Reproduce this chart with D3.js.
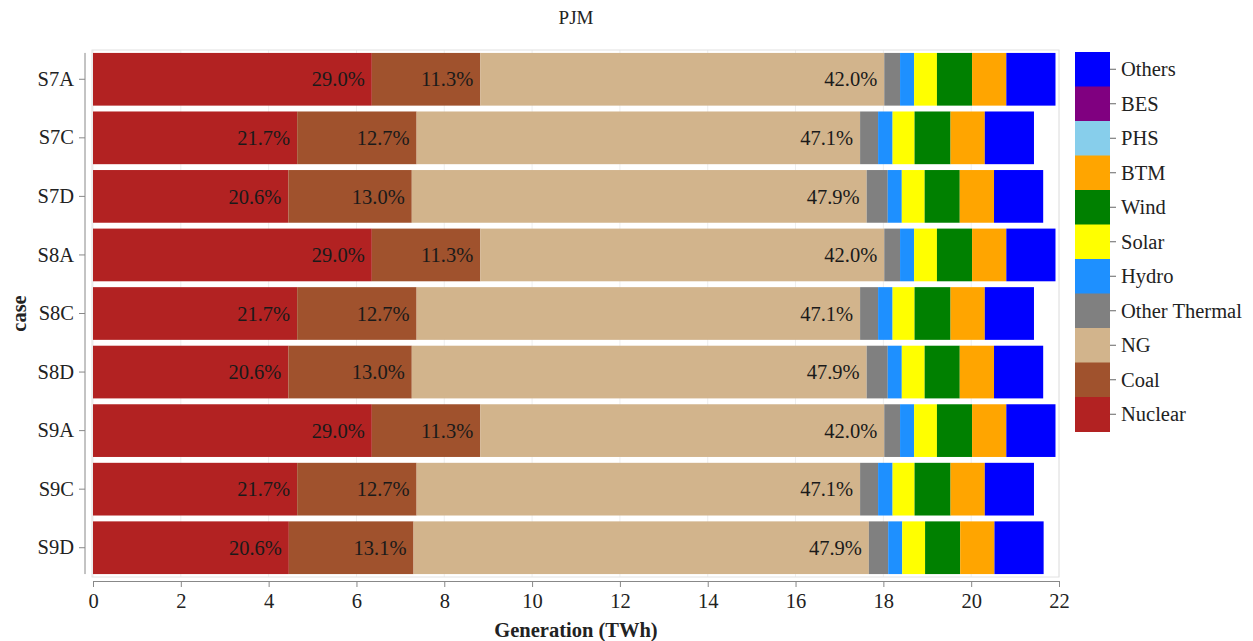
<!DOCTYPE html>
<html>
<head>
<meta charset="utf-8">
<script src="https://cdn.jsdelivr.net/npm/d3@7"></script>
<style>
  html, body { margin: 0; padding: 0; background: #fff; }
  svg text { font-family: "Liberation Serif", "Times New Roman", serif; fill: #222; }
</style>
</head>
<body>
<svg id="chart" width="1253" height="641"></svg>
<script>
// Cases (top to bottom) and generation technologies (stack order, left to right)
const cases = ["S7A", "S7C", "S7D", "S8A", "S8C", "S8D", "S9A", "S9C", "S9D"];
const techs = ["Nuclear", "Coal", "NG", "Other Thermal", "Hydro", "Solar", "Wind", "BTM", "PHS", "BES", "Others"];
const techColors = ["#b22222", "#a0522d", "#d2b48c", "#808080", "#1e90ff", "#ffff00", "#008000", "#ffa500", "#87ceeb", "#800080", "#0000ff"];

// Generation by technology, TWh (one value per case)
const nuclear      = [6.35, 4.65, 4.45, 6.35, 4.65, 4.45, 6.35, 4.65, 4.46];
const coal         = [2.47, 2.72, 2.81, 2.47, 2.72, 2.81, 2.47, 2.72, 2.84];
const ng           = [9.20, 10.10, 10.36, 9.20, 10.10, 10.36, 9.20, 10.10, 10.37];
const otherThermal = [0.36, 0.41, 0.48, 0.36, 0.41, 0.48, 0.36, 0.41, 0.44];
const hydro        = [0.32, 0.33, 0.32, 0.32, 0.33, 0.32, 0.32, 0.33, 0.32];
const solar        = [0.52, 0.50, 0.52, 0.52, 0.50, 0.52, 0.52, 0.50, 0.52];
const wind         = [0.80, 0.82, 0.80, 0.80, 0.82, 0.80, 0.80, 0.82, 0.80];
const btm          = [0.78, 0.78, 0.78, 0.78, 0.78, 0.78, 0.78, 0.78, 0.78];
const phs          = [0, 0, 0, 0, 0, 0, 0, 0, 0];
const bes          = [0, 0, 0, 0, 0, 0, 0, 0, 0];
const others       = [1.12, 1.12, 1.12, 1.12, 1.12, 1.12, 1.12, 1.12, 1.12];

const xTicks = [0, 2, 4, 6, 8, 10, 12, 14, 16, 18, 20, 22];
const labeledTechs = ["Nuclear", "Coal", "NG"];

const seriesValues = [nuclear, coal, ng, otherThermal, hydro, solar, wind, btm, phs, bes, others];
const rows = cases.map((c, i) => {
  const r = { case: c };
  techs.forEach((t, k) => { r[t] = seriesValues[k][i]; });
  r.total = d3.sum(techs, t => r[t]);
  return r;
});

const svg = d3.select("#chart");
const plot = { left: 93, right: 1059, top: 50, bottom: 577 };
const fs = "20.5px";

const x = d3.scaleLinear().domain([0, 22]).range([plot.left, plot.right]);
const y = d3.scaleBand().domain(cases).range([plot.top, plot.bottom]).paddingInner(0.1).paddingOuter(0.05);
const color = d3.scaleOrdinal().domain(techs).range(techColors);

// light frame and vertical grid
svg.append("g").selectAll("line").data(xTicks).join("line")
  .attr("x1", d => x(d)).attr("x2", d => x(d))
  .attr("y1", plot.top).attr("y2", plot.bottom)
  .attr("stroke", "#eeeeee").attr("stroke-width", 1);
svg.append("rect")
  .attr("x", plot.left - 1).attr("y", plot.top)
  .attr("width", plot.right - plot.left + 1).attr("height", plot.bottom - plot.top)
  .attr("fill", "none").attr("stroke", "#e2e2e2");

// stacked bars
const stack = d3.stack().keys(techs)(rows);
const layers = svg.append("g").selectAll("g").data(stack).join("g")
  .attr("fill", d => color(d.key));
layers.selectAll("rect").data(d => d).join("rect")
  .attr("x", d => x(d[0]))
  .attr("width", d => Math.max(0, x(d[1]) - x(d[0])))
  .attr("y", d => y(d.data.case))
  .attr("height", y.bandwidth());

// percentage labels for nuclear, coal and NG
stack.filter(s => labeledTechs.includes(s.key)).forEach(s => {
  svg.append("g").selectAll("text").data(s).join("text")
    .attr("x", d => x(d[1]) - 7)
    .attr("y", d => y(d.data.case) + y.bandwidth() / 2)
    .attr("dy", "0.35em")
    .attr("text-anchor", "end")
    .style("font-size", fs)
    .style("fill", "#1a1a1a")
    .text(d => ((d[1] - d[0]) / d.data.total * 100).toFixed(1) + "%");
});

// x axis
const xAxis = svg.append("g")
  .attr("transform", `translate(0,${plot.bottom + 4})`)
  .call(d3.axisBottom(x).tickValues(xTicks).tickSize(6).tickSizeOuter(0).tickPadding(6));
xAxis.selectAll("text").style("font-size", fs).attr("font-family", null);
xAxis.selectAll("line, path").attr("stroke", "#888");

// y axis
const yAxisX = plot.left - 8;
const yAxis = svg.append("g")
  .attr("transform", `translate(${yAxisX},0)`)
  .call(d3.axisLeft(y).tickSize(6).tickPadding(5));
yAxis.select(".domain").remove();
yAxis.append("line")
  .attr("x1", 0).attr("x2", 0)
  .attr("y1", y(cases[0])).attr("y2", y(cases[cases.length - 1]) + y.bandwidth())
  .attr("stroke", "#888");
yAxis.selectAll("line").attr("stroke", "#888");
yAxis.selectAll("text").style("font-size", fs).attr("font-family", null);

// titles
svg.append("text")
  .attr("x", (plot.left + plot.right) / 2).attr("y", 24)
  .attr("text-anchor", "middle")
  .style("font-size", "19px")
  .text("PJM");
svg.append("text")
  .attr("x", (plot.left + plot.right) / 2).attr("y", 637)
  .attr("text-anchor", "middle")
  .style("font-size", fs).style("font-weight", "bold")
  .text("Generation (TWh)");
svg.append("text")
  .attr("transform", `translate(26,${(plot.top + plot.bottom) / 2}) rotate(-90)`)
  .attr("text-anchor", "middle")
  .style("font-size", fs).style("font-weight", "bold")
  .text("case");

// legend (reverse of stack order)
const legendItems = techs.slice().reverse();
const lg = svg.append("g").attr("transform", "translate(1075,52)");
const sw = 34.5;
lg.selectAll("rect").data(legendItems).join("rect")
  .attr("x", 0).attr("y", (d, i) => i * sw)
  .attr("width", 35).attr("height", sw + 0.5)
  .attr("fill", d => color(d));
lg.selectAll("line").data(legendItems).join("line")
  .attr("x1", 35).attr("x2", 41)
  .attr("y1", (d, i) => i * sw + sw / 2).attr("y2", (d, i) => i * sw + sw / 2)
  .attr("stroke", "#666");
lg.selectAll("text").data(legendItems).join("text")
  .attr("x", 46).attr("y", (d, i) => i * sw + sw / 2)
  .attr("dy", "0.35em")
  .style("font-size", fs)
  .text(d => d);
</script>
</body>
</html>
